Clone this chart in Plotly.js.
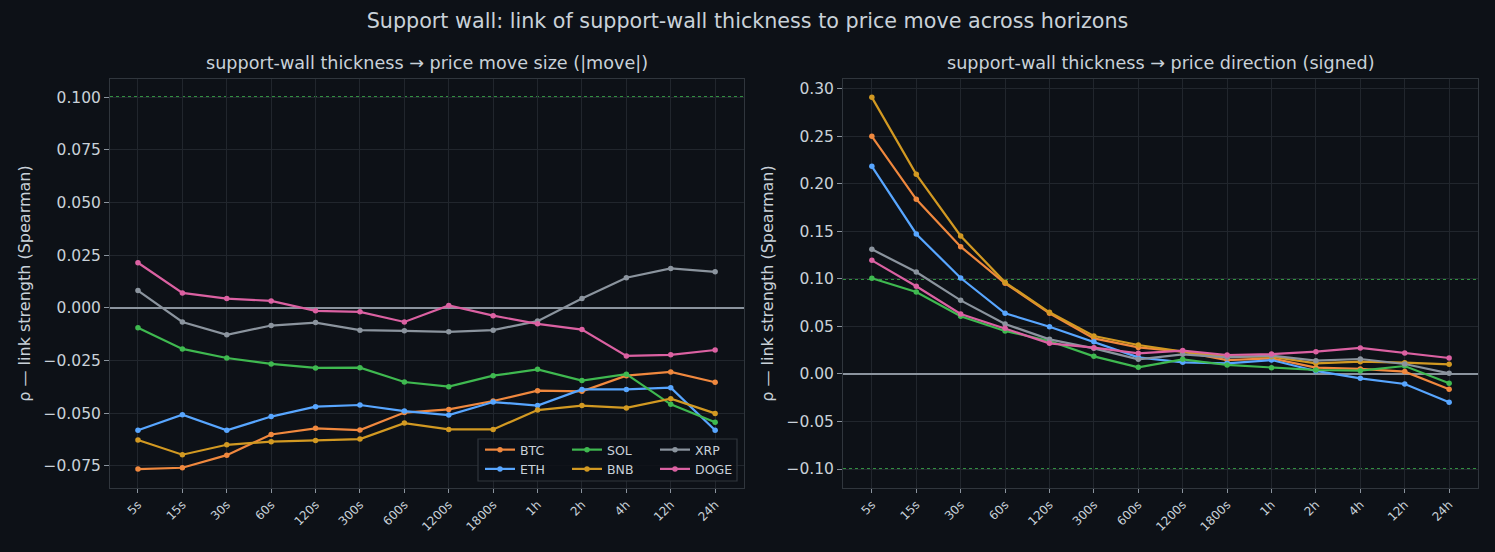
<!DOCTYPE html>
<html>
<head>
<meta charset="utf-8">
<script src="https://cdn.plot.ly/plotly-3.0.1.min.js"></script>
<style>
  html, body { margin: 0; padding: 0; background: #0d1117; }
  #chart { width: 1495px; height: 552px; }
</style>
</head>
<body>
<div id="chart"></div>
<script>
// Horizons (x categories)
const horizons = ['5s', '15s', '30s', '60s', '120s', '300s', '600s', '1200s', '1800s', '1h', '2h', '4h', '12h', '24h'];

// Spearman rho: support-wall thickness vs |move|
const sizeBTC  = [-0.0765, -0.0759, -0.0699, -0.0601, -0.0572, -0.0580, -0.0497, -0.0482, -0.0442, -0.0393, -0.0396, -0.0322, -0.0304, -0.0353];
const sizeETH  = [-0.0581, -0.0507, -0.0581, -0.0516, -0.0469, -0.0461, -0.0490, -0.0509, -0.0447, -0.0464, -0.0387, -0.0387, -0.0379, -0.0581];
const sizeSOL  = [-0.0095, -0.0195, -0.0238, -0.0266, -0.0285, -0.0284, -0.0352, -0.0374, -0.0322, -0.0292, -0.0345, -0.0315, -0.0458, -0.0543];
const sizeBNB  = [-0.0627, -0.0697, -0.0650, -0.0635, -0.0629, -0.0623, -0.0547, -0.0577, -0.0577, -0.0485, -0.0464, -0.0475, -0.0431, -0.0501];
const sizeXRP  = [0.0082, -0.0067, -0.0128, -0.0084, -0.0070, -0.0106, -0.0109, -0.0114, -0.0106, -0.0063, 0.0044, 0.0143, 0.0187, 0.0171];
const sizeDOGE = [0.0214, 0.0071, 0.0044, 0.0033, -0.0014, -0.0019, -0.0067, 0.0011, -0.0037, -0.0076, -0.0103, -0.0228, -0.0223, -0.0200];

// Spearman rho: support-wall thickness vs signed move
const dirBTC  = [0.2502, 0.1839, 0.1340, 0.0954, 0.0640, 0.0375, 0.0280, 0.0235, 0.0147, 0.0165, 0.0067, 0.0053, 0.0025, -0.0161];
const dirETH  = [0.2186, 0.1474, 0.1010, 0.0639, 0.0498, 0.0340, 0.0175, 0.0123, 0.0112, 0.0147, 0.0032, -0.0046, -0.0105, -0.0298];
const dirSOL  = [0.1007, 0.0863, 0.0607, 0.0453, 0.0347, 0.0186, 0.0070, 0.0154, 0.0095, 0.0067, 0.0042, 0.0035, 0.0084, -0.0098];
const dirBNB  = [0.2912, 0.2102, 0.1453, 0.0965, 0.0649, 0.0400, 0.0305, 0.0235, 0.0182, 0.0182, 0.0112, 0.0130, 0.0119, 0.0102];
const dirXRP  = [0.1312, 0.1074, 0.0775, 0.0526, 0.0365, 0.0270, 0.0154, 0.0207, 0.0175, 0.0193, 0.0140, 0.0158, 0.0105, 0.0007];
const dirDOGE = [0.1196, 0.0923, 0.0632, 0.0481, 0.0323, 0.0277, 0.0218, 0.0246, 0.0200, 0.0210, 0.0235, 0.0274, 0.0221, 0.0168];

const assets = ['BTC', 'ETH', 'SOL', 'BNB', 'XRP', 'DOGE'];
const colors = ['#f0883e', '#58a6ff', '#3fb950', '#d29922', '#8b949e', '#db61a2'];
const sizeSeries = [sizeBTC, sizeETH, sizeSOL, sizeBNB, sizeXRP, sizeDOGE];
const dirSeries = [dirBTC, dirETH, dirSOL, dirBNB, dirXRP, dirDOGE];
// legend columns: BTC/ETH, SOL/BNB, XRP/DOGE
const legendFor = ['legend', 'legend', 'legend2', 'legend2', 'legend3', 'legend3'];

const BG = '#0d1117';
const GRID = '#21262d';
const FRAME = '#30363d';
const TEXT = '#c9d1d9';
const FONT = 'DejaVu Sans, sans-serif';

const traces = [];
assets.forEach((name, i) => {
  traces.push({
    x: horizons, y: sizeSeries[i], name: name, type: 'scatter', mode: 'lines+markers',
    line: {color: colors[i], width: 2.2}, marker: {color: colors[i], size: 5.5},
    xaxis: 'x', yaxis: 'y', legend: legendFor[i], showlegend: true
  });
});
assets.forEach((name, i) => {
  traces.push({
    x: horizons, y: dirSeries[i], name: name, type: 'scatter', mode: 'lines+markers',
    line: {color: colors[i], width: 2.2}, marker: {color: colors[i], size: 5.5},
    xaxis: 'x2', yaxis: 'y2', showlegend: false
  });
});

const mL = 110, mR = 17, mT = 79, mB = 64;
const W = 1495, H = 552;
const gw = W - mL - mR, gh = H - mT - mB;
const px = v => (v - mL) / gw;
const py = v => (H - mB - v) / gh;

const xCommon = {
  type: 'category', range: [-0.63, 13.65], showgrid: true, gridcolor: GRID, gridwidth: 1,
  zeroline: false, showline: true, linecolor: FRAME, linewidth: 1, mirror: true,
  ticks: 'outside', ticklen: 4, tickcolor: '#8b949e', tickwidth: 1,
  tickangle: -45, tickfont: {family: FONT, size: 12, color: TEXT}
};
const yCommon = {
  showgrid: true, gridcolor: GRID, gridwidth: 1,
  zeroline: true, zerolinecolor: '#8b949e', zerolinewidth: 1.5,
  showline: true, linecolor: FRAME, linewidth: 1, mirror: true,
  ticks: 'outside', ticklen: 5, tickcolor: '#8b949e', tickwidth: 1,
  tickfont: {family: FONT, size: 15.5, color: TEXT},
  title: {text: 'ρ — link strength (Spearman)', font: {family: FONT, size: 16, color: TEXT}, standoff: 8}
};

const legendCommon = {
  orientation: 'v', bgcolor: 'rgba(0,0,0,0)', borderwidth: 0,
  font: {family: FONT, size: 12.5, color: TEXT}, xanchor: 'left', yanchor: 'top',
  itemwidth: 30, tracegroupgap: 0
};

const guide = {color: '#3fb950', width: 1.6, dash: 'dot'};

const layout = {
  width: W, height: H,
  paper_bgcolor: BG, plot_bgcolor: BG,
  margin: {l: mL, r: mR, t: mT, b: mB},
  font: {family: FONT, color: TEXT},
  title: {text: 'Support wall: link of support-wall thickness to price move across horizons',
          font: {family: FONT, size: 20.7, color: TEXT}, x: 0.5, xanchor: 'center', y: 0.962, yanchor: 'middle'},
  xaxis: Object.assign({}, xCommon, {domain: [0, px(744)], anchor: 'y'}),
  yaxis: Object.assign({}, yCommon, {domain: [0, 1], anchor: 'x', range: [-0.0855, 0.1086],
                       dtick: 0.025, tick0: 0, tickformat: '.3f'}),
  xaxis2: Object.assign({}, xCommon, {domain: [px(843), 1], anchor: 'y2', range: [-0.65, 13.65]}),
  yaxis2: Object.assign({}, yCommon, {domain: [0, 1], anchor: 'x2', range: [-0.12, 0.3105],
                        dtick: 0.05, tick0: 0, tickformat: '.2f'}),
  legend: Object.assign({}, legendCommon, {x: px(480), y: py(435)}),
  legend2: Object.assign({}, legendCommon, {x: px(567), y: py(435)}),
  legend3: Object.assign({}, legendCommon, {x: px(655), y: py(435)}),
  annotations: [
    {text: 'support-wall thickness → price move size (|move|)', xref: 'paper', yref: 'paper',
     x: px((110 + 744) / 2), y: py(63), xanchor: 'center', yanchor: 'middle', showarrow: false,
     font: {family: FONT, size: 17.6, color: TEXT}},
    {text: 'support-wall thickness → price direction (signed)', xref: 'paper', yref: 'paper',
     x: px((843 + 1478) / 2), y: py(63), xanchor: 'center', yanchor: 'middle', showarrow: false,
     font: {family: FONT, size: 17.6, color: TEXT}}
  ],
  shapes: [
    // significance guides at |rho| = 0.1
    {type: 'line', xref: 'x domain', yref: 'y', x0: 0, x1: 1, y0: 0.1, y1: 0.1, layer: 'below', line: guide},
    {type: 'line', xref: 'x2 domain', yref: 'y2', x0: 0, x1: 1, y0: 0.1, y1: 0.1, layer: 'below', line: guide},
    {type: 'line', xref: 'x2 domain', yref: 'y2', x0: 0, x1: 1, y0: -0.1, y1: -0.1, layer: 'below', line: guide},
    // legend frame
    {type: 'rect', xref: 'paper', yref: 'paper', x0: px(478), x1: px(737), y0: py(481), y1: py(439),
     layer: 'above', fillcolor: 'rgba(13,17,23,0.85)', line: {color: FRAME, width: 1.2}}
  ]
};

Plotly.newPlot('chart', traces, layout, {displayModeBar: false, staticPlot: true});
</script>
</body>
</html>
